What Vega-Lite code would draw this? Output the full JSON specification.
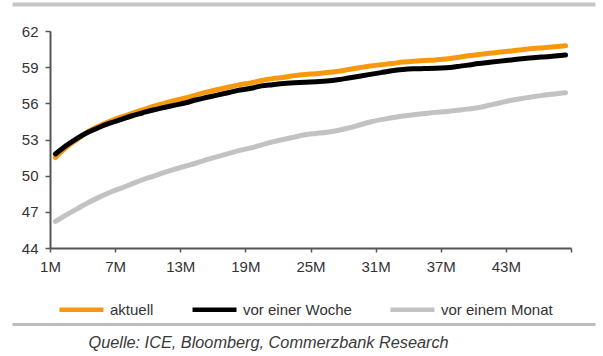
{
  "$schema": "https://vega.github.io/schema/vega-lite/v6.json",
  "autosize": "none",
  "width": 521,
  "height": 217,
  "padding": {"left": 50, "top": 31, "right": 32, "bottom": 108},
  "background": "white",
  "config": {
    "view": {"stroke": null},
    "font": "Liberation Sans",
    "axis": {"labelFont": "Liberation Sans", "labelColor": "#333333", "grid": false}
  },
  "data": {
    "values": [
      {"m": 1, "aktuell": 51.5, "vor einer Woche": 51.8, "vor einem Monat": 46.2},
      {"m": 2, "aktuell": 52.35, "vor einer Woche": 52.5, "vor einem Monat": 46.75},
      {"m": 3, "aktuell": 53.0, "vor einer Woche": 53.1, "vor einem Monat": 47.25},
      {"m": 4, "aktuell": 53.65, "vor einer Woche": 53.6, "vor einem Monat": 47.75},
      {"m": 5, "aktuell": 54.1, "vor einer Woche": 54.0, "vor einem Monat": 48.2},
      {"m": 6, "aktuell": 54.5, "vor einer Woche": 54.35, "vor einem Monat": 48.6},
      {"m": 7, "aktuell": 54.85, "vor einer Woche": 54.65, "vor einem Monat": 48.95},
      {"m": 8, "aktuell": 55.15, "vor einer Woche": 54.95, "vor einem Monat": 49.3},
      {"m": 9, "aktuell": 55.45, "vor einer Woche": 55.2, "vor einem Monat": 49.65},
      {"m": 10, "aktuell": 55.75, "vor einer Woche": 55.45, "vor einem Monat": 49.95},
      {"m": 11, "aktuell": 56.0, "vor einer Woche": 55.65, "vor einem Monat": 50.25},
      {"m": 12, "aktuell": 56.25, "vor einer Woche": 55.85, "vor einem Monat": 50.55},
      {"m": 13, "aktuell": 56.45, "vor einer Woche": 56.05, "vor einem Monat": 50.8},
      {"m": 14, "aktuell": 56.7, "vor einer Woche": 56.3, "vor einem Monat": 51.05},
      {"m": 15, "aktuell": 56.95, "vor einer Woche": 56.5, "vor einem Monat": 51.35},
      {"m": 16, "aktuell": 57.15, "vor einer Woche": 56.7, "vor einem Monat": 51.6},
      {"m": 17, "aktuell": 57.35, "vor einer Woche": 56.9, "vor einem Monat": 51.85},
      {"m": 18, "aktuell": 57.55, "vor einer Woche": 57.1, "vor einem Monat": 52.1},
      {"m": 19, "aktuell": 57.7, "vor einer Woche": 57.25, "vor einem Monat": 52.3},
      {"m": 20, "aktuell": 57.9, "vor einer Woche": 57.45, "vor einem Monat": 52.55},
      {"m": 21, "aktuell": 58.05, "vor einer Woche": 57.55, "vor einem Monat": 52.8},
      {"m": 22, "aktuell": 58.15, "vor einer Woche": 57.65, "vor einem Monat": 53.0},
      {"m": 23, "aktuell": 58.3, "vor einer Woche": 57.7, "vor einem Monat": 53.2},
      {"m": 24, "aktuell": 58.4, "vor einer Woche": 57.75, "vor einem Monat": 53.4},
      {"m": 25, "aktuell": 58.45, "vor einer Woche": 57.8, "vor einem Monat": 53.5},
      {"m": 26, "aktuell": 58.55, "vor einer Woche": 57.85, "vor einem Monat": 53.6},
      {"m": 27, "aktuell": 58.65, "vor einer Woche": 57.95, "vor einem Monat": 53.75},
      {"m": 28, "aktuell": 58.8, "vor einer Woche": 58.1, "vor einem Monat": 53.95},
      {"m": 29, "aktuell": 58.95, "vor einer Woche": 58.25, "vor einem Monat": 54.2},
      {"m": 30, "aktuell": 59.1, "vor einer Woche": 58.4, "vor einem Monat": 54.45},
      {"m": 31, "aktuell": 59.2, "vor einer Woche": 58.55, "vor einem Monat": 54.65},
      {"m": 32, "aktuell": 59.3, "vor einer Woche": 58.7, "vor einem Monat": 54.8},
      {"m": 33, "aktuell": 59.42, "vor einer Woche": 58.8, "vor einem Monat": 54.95},
      {"m": 34, "aktuell": 59.5, "vor einer Woche": 58.86, "vor einem Monat": 55.05},
      {"m": 35, "aktuell": 59.55, "vor einer Woche": 58.88, "vor einem Monat": 55.15},
      {"m": 36, "aktuell": 59.6, "vor einer Woche": 58.9, "vor einem Monat": 55.25},
      {"m": 37, "aktuell": 59.67, "vor einer Woche": 58.95, "vor einem Monat": 55.32},
      {"m": 38, "aktuell": 59.8, "vor einer Woche": 59.05, "vor einem Monat": 55.42},
      {"m": 39, "aktuell": 59.95, "vor einer Woche": 59.17, "vor einem Monat": 55.52},
      {"m": 40, "aktuell": 60.05, "vor einer Woche": 59.3, "vor einem Monat": 55.65},
      {"m": 41, "aktuell": 60.15, "vor einer Woche": 59.4, "vor einem Monat": 55.85},
      {"m": 42, "aktuell": 60.25, "vor einer Woche": 59.5, "vor einem Monat": 56.05},
      {"m": 43, "aktuell": 60.35, "vor einer Woche": 59.6, "vor einem Monat": 56.25},
      {"m": 44, "aktuell": 60.45, "vor einer Woche": 59.7, "vor einem Monat": 56.4},
      {"m": 45, "aktuell": 60.55, "vor einer Woche": 59.78, "vor einem Monat": 56.55},
      {"m": 46, "aktuell": 60.62, "vor einer Woche": 59.85, "vor einem Monat": 56.68},
      {"m": 47, "aktuell": 60.7, "vor einer Woche": 59.92, "vor einem Monat": 56.78},
      {"m": 48, "aktuell": 60.78, "vor einer Woche": 60.0, "vor einem Monat": 56.88}
    ]
  },
  "transform": [
    {"fold": ["aktuell", "vor einer Woche", "vor einem Monat"], "as": ["serie", "wert"]}
  ],
  "layer": [
    {
      "mark": {"type": "line", "strokeWidth": 5, "strokeCap": "round", "strokeJoin": "round", "interpolate": "monotone"},
      "encoding": {
        "x": {
          "field": "m",
          "type": "quantitative",
          "scale": {"domain": [0.5, 48.5], "nice": false, "zero": false},
          "axis": {
            "title": null,
            "values": [0.5, 6.5, 12.5, 18.5, 24.5, 30.5, 36.5, 42.5, 48.5],
            "labelExpr": "datum.value > 48 ? '' : (datum.value + 0.5) + 'M'",
            "labelDx": 5.4,
            "labelFontSize": 15,
            "labelPadding": 7,
            "labelFlush": false,
            "labelOverlap": false,
            "domainColor": "#555555",
            "domainWidth": 2,
            "tickColor": "#555555",
            "tickWidth": 1.5,
            "tickSize": 4
          }
        },
        "y": {
          "field": "wert",
          "type": "quantitative",
          "scale": {"domain": [44, 62], "nice": false, "zero": false},
          "axis": {
            "title": null,
            "values": [44, 47, 50, 53, 56, 59, 62],
            "labelFontSize": 15,
            "labelPadding": 7,
            "domainColor": "#555555",
            "domainWidth": 2,
            "tickColor": "#555555",
            "tickWidth": 1.5,
            "tickSize": 5
          }
        },
        "color": {
          "field": "serie",
          "type": "nominal",
          "sort": ["aktuell", "vor einer Woche", "vor einem Monat"],
          "scale": {
            "domain": ["aktuell", "vor einer Woche", "vor einem Monat"],
            "range": ["#f7980f", "#000000", "#c2c2c2"]
          },
          "legend": {
            "title": null,
            "orient": "none",
            "direction": "horizontal",
            "legendX": 7,
            "legendY": 254,
            "padding": 0,
            "symbolType": "stroke",
            "symbolSize": 1936,
            "symbolStrokeWidth": 4.5,
            "labelFont": "Liberation Sans",
            "labelFontSize": 15,
            "labelColor": "#333333",
            "labelOffset": 4,
            "columnPadding": 29
          }
        }
      }
    },
    {
      "mark": {"type": "rule", "opacity": 0},
      "encoding": {
        "x": {
          "field": "m",
          "type": "quantitative",
          "scale": {"domain": [0.5, 48.5], "nice": false, "zero": false, "range": [-38, 545]},
          "axis": {
            "orient": "top",
            "offset": 27,
            "title": null,
            "labels": false,
            "ticks": false,
            "grid": false,
            "domainColor": "#c6c6c6",
            "domainWidth": 4
          }
        }
      }
    },
    {
      "mark": {"type": "rule", "opacity": 0},
      "encoding": {
        "x": {
          "field": "m",
          "type": "quantitative",
          "scale": {"domain": [0.5, 48.5], "nice": false, "zero": false, "range": [-38, 545]},
          "axis": {
            "orient": "bottom",
            "offset": 76,
            "title": "Quelle: ICE, Bloomberg, Commerzbank Research",
            "titleFont": "Liberation Sans",
            "titleFontSize": 16.3,
            "titleFontStyle": "italic",
            "titleFontWeight": "normal",
            "titleColor": "#3a3a3a",
            "titleAlign": "left",
            "titleAnchor": null,
            "titleX": 38,
            "titleY": 18,
            "titleBaseline": "middle",
            "labels": false,
            "ticks": false,
            "grid": false,
            "domainColor": "#bdbdbd",
            "domainWidth": 3
          }
        }
      }
    }
  ],
  "resolve": {"scale": {"x": "independent"}, "axis": {"x": "independent"}}
}
